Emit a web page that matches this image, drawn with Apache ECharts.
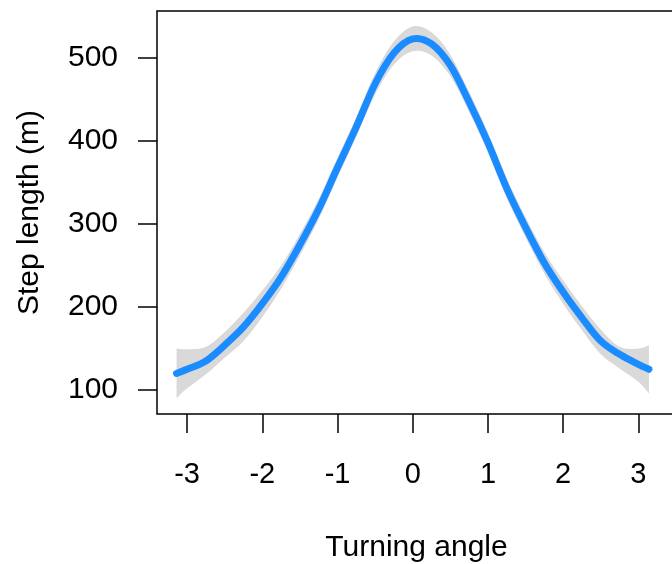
<!DOCTYPE html>
<html>
<head>
<meta charset="utf-8">
<script src="https://cdn.jsdelivr.net/npm/echarts@6/dist/echarts.min.js"></script>
<style>
html,body{margin:0;padding:0;background:#fff;}
#chart{width:672px;height:564px;}
</style>
</head>
<body>
<div id="chart"></div>
<script>
// Turning angle (x) positions
var angles = [-3.14, -3.0, -2.75, -2.5, -2.25, -2.0, -1.75, -1.5, -1.25, -1.0, -0.75, -0.5, -0.25, 0, 0.25, 0.5, 0.75, 1.0, 1.25, 1.5, 1.75, 2.0, 2.25, 2.5, 2.75, 3.0, 3.14];
// fitted step length (m)
var fitted = [120, 125, 135, 154, 176, 204, 236, 275, 318, 368, 417, 469, 506, 523, 517, 491, 447, 398, 343, 296, 253, 218, 187, 159, 143, 131, 125];
// confidence band lower and upper (m)
var lower = [90, 102, 119, 139, 159, 188, 222, 262, 306, 356, 405, 456, 492, 508, 503, 478, 435, 386, 331, 284, 240, 204, 172, 143, 126, 110, 96];
var upper = [150, 149, 152, 170, 193, 220, 250, 288, 330, 380, 429, 482, 520, 538, 531, 504, 459, 410, 355, 308, 266, 232, 201, 173, 152, 150, 154];
var xTicks = [-3, -2, -1, 0, 1, 2, 3];
var yTicks = [100, 200, 300, 400, 500];

// Catmull-Rom spline through pixel points -> SVG path segments
function splinePath(pts, start) {
  var d = (start ? 'M' : 'L') + pts[0][0] + ',' + pts[0][1];
  for (var i = 0; i < pts.length - 1; i++) {
    var p0 = pts[i - 1] || pts[i];
    var p1 = pts[i];
    var p2 = pts[i + 1];
    var p3 = pts[i + 2] || pts[i + 1];
    var c1x = p1[0] + (p2[0] - p0[0]) / 6;
    var c1y = p1[1] + (p2[1] - p0[1]) / 6;
    var c2x = p2[0] - (p3[0] - p1[0]) / 6;
    var c2y = p2[1] - (p3[1] - p1[1]) / 6;
    d += 'C' + c1x + ',' + c1y + ',' + c2x + ',' + c2y + ',' + p2[0] + ',' + p2[1];
  }
  return d;
}

var font = '"Liberation Sans", Arial, sans-serif';
var chart = echarts.init(document.getElementById('chart'), null, {renderer: 'canvas'});
chart.setOption({
  animation: false,
  backgroundColor: '#fff',
  grid: {
    left: 157, top: 11, width: 519, height: 403,
    containLabel: false, outerBoundsMode: 'none',
    show: true, borderColor: '#000', borderWidth: 1.5, backgroundColor: 'transparent'
  },
  xAxis: {
    type: 'value', min: -3.4, max: 3.5,
    name: 'Turning angle', nameLocation: 'middle', nameGap: 119,
    nameTextStyle: {fontFamily: font, fontSize: 30, color: '#000'},
    axisLine: {show: false, onZero: false},
    splitLine: {show: false},
    axisTick: {show: true, inside: false, length: 19, customValues: xTicks, lineStyle: {color: '#000', width: 1.5}},
    axisLabel: {show: true, customValues: xTicks, margin: 46, fontFamily: font, fontSize: 29, color: '#000'}
  },
  yAxis: {
    type: 'value', min: 71.1, max: 556.6,
    name: 'Step length (m)', nameLocation: 'middle', nameGap: 112, nameRotate: 90,
    nameTextStyle: {fontFamily: font, fontSize: 30, color: '#000'},
    axisLine: {show: false, onZero: false},
    splitLine: {show: false},
    axisTick: {show: true, inside: false, length: 19, customValues: yTicks, lineStyle: {color: '#000', width: 1.5}},
    axisLabel: {show: true, customValues: yTicks, margin: 39, fontFamily: font, fontSize: 30, color: '#000'}
  },
  series: [
    {
      type: 'custom',
      name: 'band',
      silent: true,
      data: [0],
      renderItem: function (params, api) {
        var up = angles.map(function (a, i) { return api.coord([a, upper[i]]); });
        var lo = angles.map(function (a, i) { return api.coord([a, lower[i]]); }).reverse();
        var d = splinePath(up, true) + splinePath(lo, false) + 'Z';
        return {
          type: 'path',
          shape: {pathData: d},
          style: {fill: '#d9d9d9', stroke: null}
        };
      }
    },
    {
      type: 'custom',
      name: 'fit',
      silent: true,
      data: [0],
      renderItem: function (params, api) {
        var pts = angles.map(function (a, i) { return api.coord([a, fitted[i]]); });
        return {
          type: 'path',
          shape: {pathData: splinePath(pts, true)},
          style: {fill: null, stroke: '#1a8cff', lineWidth: 7, lineCap: 'round', lineJoin: 'round'}
        };
      }
    }
  ]
});
</script>
</body>
</html>
